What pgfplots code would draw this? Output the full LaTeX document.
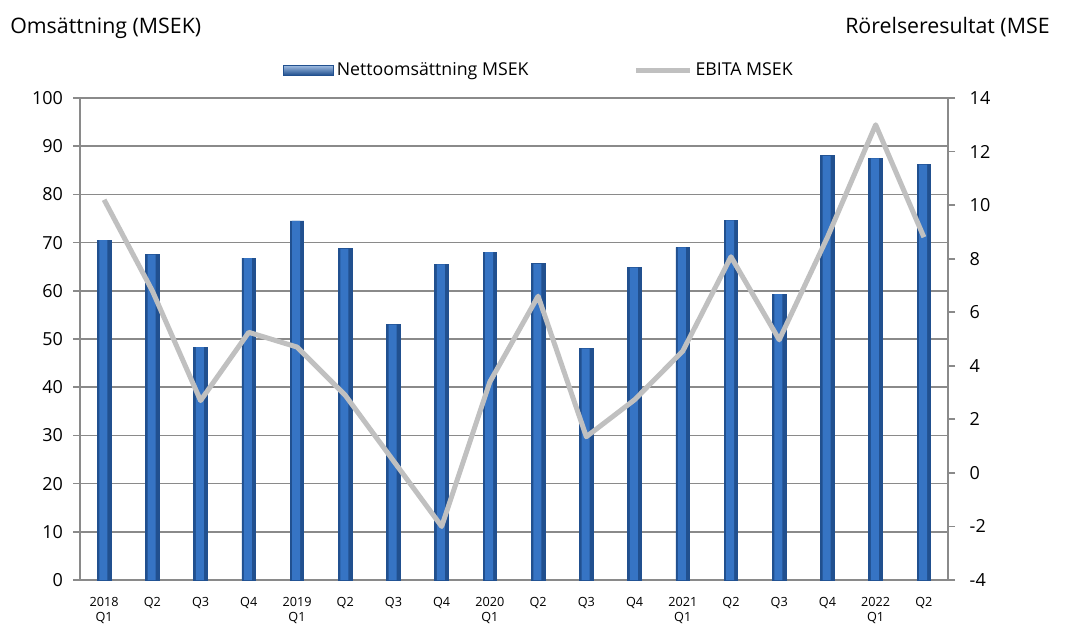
\documentclass[border=0pt]{standalone}
\usepackage{pgfplots}
\usepackage{pgfplotstable}
\pgfplotsset{compat=1.18}
\usepackage{fontspec}
\setmainfont{Open Sans}
\definecolor{bardark}{HTML}{21508F}
\definecolor{barmid}{HTML}{3674C4}
\definecolor{gridc}{HTML}{8A8A8A}
\definecolor{linec}{HTML}{C0C0C0}
\pgfplotstableread{
x y
0 70.5
1 67.5
2 48.3
3 66.8
4 74.5
5 68.7
6 53.0
7 65.5
8 68.0
9 65.6
10 48.0
11 64.8
12 69.0
13 74.6
14 59.3
15 88.0
16 87.5
17 86.2
}\sales
\begin{document}
\begin{tikzpicture}
\path[use as bounding box] (-60pt,-34.5pt) rectangle (742.5pt,435pt);
\begin{axis}[
  scale only axis, width=651pt, height=361.5pt,
  xmin=-0.5, xmax=17.5, ymin=0, ymax=100,
  axis y line*=left, axis x line*=bottom,
  axis line style={draw=gridc, line width=1.3pt},
  ytick={0,10,...,100},
  ymajorgrids, grid style={draw=gridc, line width=1.3pt},
  major tick style={draw=gridc, line width=1.3pt},
  minor tick style={draw=gridc, line width=1.3pt},
  tick align=outside, major tick length=5.25pt, minor tick length=5.25pt,
  xtick={0,...,17},
  xticklabels={{2018\\Q1},Q2,Q3,Q4,{2019\\Q1},Q2,Q3,Q4,{2020\\Q1},Q2,Q3,Q4,{2021\\Q1},Q2,Q3,Q4,{2022\\Q1},Q2},
  x tick style={draw=none},
  minor xtick={-0.5,0.5,...,17.5},
  xticklabel style={font=\fontsize{9.5}{11.5}\selectfont, align=center, yshift=-4pt},
  yticklabel style={font=\fontsize{13.5}{15}\selectfont, xshift=-4pt},
  /pgf/number format/assume math mode=true,
  legend style={at={(0.234,1.058)}, anchor=west, draw=none, fill=none, inner sep=0pt,
    font=\fontsize{13.3}{15}\selectfont,
    nodes={inner xsep=2pt, inner ysep=1pt},
    /tikz/every even column/.append style={column sep=77pt}},
  legend columns=2,
  legend cell align=left,
  clip=false,
]
\addplot[ybar, bar width=10.2pt, draw=bardark, line width=0.6pt, fill=bardark,
  legend image code/.code={\shade[top color=barmid!45!white, bottom color=bardark] (0pt,-3.75pt) rectangle (37.5pt,3.75pt);}]
  table[x=x,y=y] {\sales};
\addlegendentry{Nettoomsättning MSEK}
\addplot[ybar, bar width=6pt, bar shift=-0.6pt, draw=none, fill=barmid, forget plot]
  table[x=x,y=y] {\sales};
\addlegendimage{legend image code/.code={\draw[draw=linec, line width=3.75pt] (0pt,0pt) -- (40.5pt,0pt);}}
\addlegendentry{EBITA MSEK}
\node[anchor=base west, font=\fontsize{16}{18}\selectfont, inner sep=0pt] at (rel axis cs:0,1) [xshift=-52.5pt, yshift=48.75pt] {Omsättning (MSEK)};
\node[anchor=base west, font=\fontsize{16}{18}\selectfont, inner sep=0pt] at (rel axis cs:0,1) [xshift=573.75pt, yshift=48.75pt] {Rörelseresultat (MSE};
\end{axis}
\begin{axis}[
  scale only axis, width=651pt, height=361.5pt,
  xmin=-0.5, xmax=17.5, ymin=-4, ymax=14,
  axis y line*=right, axis x line=none,
  axis line style={draw=gridc, line width=1.3pt},
  ytick={-4,-2,...,14},
  major tick style={draw=gridc, line width=1.3pt},
  tick align=outside, major tick length=5.25pt,
  yticklabel style={font=\fontsize{13.5}{15}\selectfont, anchor=west, xshift=7.5pt},
  /pgf/number format/assume math mode=true,
  clip=false,
]
\addplot[draw=linec, line width=3.75pt, line join=round] coordinates {
(0,10.2) (1,6.8) (2,2.7) (3,5.25) (4,4.7) (5,2.9) (6,0.45) (7,-2.0) (8,3.4)
(9,6.6) (10,1.35) (11,2.73) (12,4.55) (13,8.07) (14,4.97) (15,8.8) (16,13.0) (17,8.8)
};
\end{axis}
\end{tikzpicture}
\end{document}
